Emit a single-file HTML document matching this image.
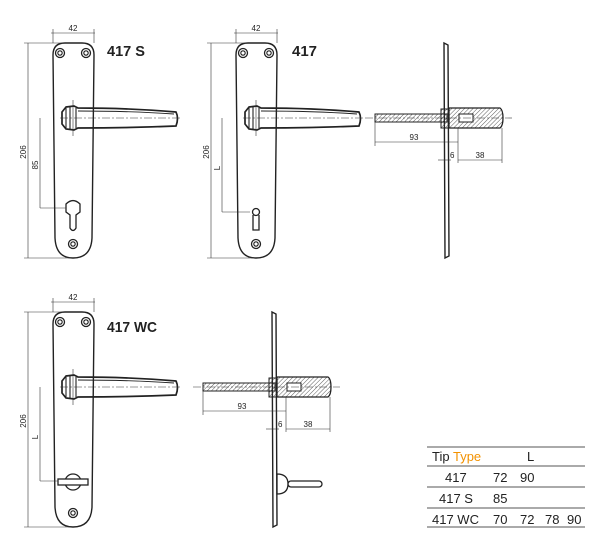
<!DOCTYPE html>
<html><head><meta charset="utf-8"><style>
html,body{margin:0;padding:0;background:#fff;width:600px;height:551px;overflow:hidden}
svg{display:block}
text{font-family:"Liberation Sans",sans-serif;fill:#222}
</style></head><body>
<svg width="600" height="551" viewBox="0 0 600 551" xmlns="http://www.w3.org/2000/svg">
<defs>
<pattern id="h" width="3" height="3" patternUnits="userSpaceOnUse" patternTransform="rotate(45)">
<line x1="0" y1="0" x2="0" y2="3" stroke="#333" stroke-width="0.8"/></pattern>
<g id="screw"><circle r="4.5" fill="none" stroke="#222" stroke-width="1.3"/><circle r="2.2" fill="none" stroke="#222" stroke-width="1.1"/></g>
<g id="plate">
<path d="M53,55 Q53,43 65,43 L82,43 Q94,43 94,55 L92,238 Q91,258 73,258 Q56,258 55,238 Z" fill="none" stroke="#222" stroke-width="1.4"/>
<use href="#screw" x="60" y="53"/><use href="#screw" x="86" y="53"/><use href="#screw" x="73" y="244"/>
<path d="M66,107 L74,106 L78,108 Q130,108 176,112 Q179,118 176,126 Q130,128 78,128 L74,130 L66,129 L62,124 L62,112 Z" fill="none" stroke="#222" stroke-width="1.7"/>
<path d="M66,108 L66,128 M70,107 L70,129 M76,108 L76,128" stroke="#222" stroke-width="1.1"/>
<path d="M78,111 Q130,111 174,114" fill="none" stroke="#222" stroke-width="0.9"/>
<line x1="60" y1="118" x2="182" y2="118" stroke="#333" stroke-width="0.6" stroke-dasharray="8,2,2,2"/>
<line x1="73" y1="100" x2="73" y2="136" stroke="#333" stroke-width="0.6"/>
<line x1="51" y1="33" x2="95" y2="33" stroke="#333" stroke-width="0.6"/>
<line x1="53" y1="29" x2="53" y2="43" stroke="#333" stroke-width="0.6"/><line x1="94" y1="29" x2="94" y2="43" stroke="#333" stroke-width="0.6"/>
<text x="73" y="31" font-size="8" text-anchor="middle">42</text>
<line x1="28" y1="43" x2="28" y2="258" stroke="#333" stroke-width="0.6"/>
<line x1="24" y1="43" x2="62" y2="43" stroke="#333" stroke-width="0.6"/><line x1="24" y1="258" x2="70" y2="258" stroke="#333" stroke-width="0.6"/>
<text x="26" y="152" font-size="8" text-anchor="middle" transform="rotate(-90 26 152)">206</text>
</g>
<g id="side">
<path d="M444,43 L448,45 L449,256 L445,258 Z" fill="none" stroke="#222" stroke-width="1.4"/>
<rect x="375" y="114" width="72" height="8" fill="url(#h)" stroke="#222" stroke-width="1"/>
<path d="M449,108 L500,108 Q503,110 503,118 Q503,126 500,128 L449,128 Z" fill="url(#h)" stroke="#222" stroke-width="1.3"/>
<rect x="441" y="109" width="8" height="19" fill="url(#h)" stroke="#222" stroke-width="1"/>
<rect x="459" y="114" width="14" height="8" fill="#fff" stroke="#222" stroke-width="1"/>
<line x1="365" y1="118" x2="512" y2="118" stroke="#333" stroke-width="0.6" stroke-dasharray="8,2,2,2"/>
<line x1="375" y1="122" x2="375" y2="146" stroke="#333" stroke-width="0.6"/>
<line x1="458" y1="128" x2="458" y2="163" stroke="#333" stroke-width="0.6"/>
<line x1="375" y1="142" x2="458" y2="142" stroke="#333" stroke-width="0.6"/>
<text x="414" y="140" font-size="8" text-anchor="middle">93</text>
<line x1="502" y1="128" x2="502" y2="163" stroke="#333" stroke-width="0.6"/>
<line x1="438" y1="160" x2="451" y2="160" stroke="#333" stroke-width="0.6"/>
<line x1="458" y1="160" x2="502" y2="160" stroke="#333" stroke-width="0.6"/>
<text x="450" y="158" font-size="8">6</text>
<text x="480" y="158" font-size="8" text-anchor="middle">38</text>
</g>
</defs>

<use href="#plate"/>
<path d="M66,204 Q73,197 80,204 L80,212 L76,215 L76,228 Q73,233 70,228 L70,215 L66,212 Z" fill="none" stroke="#222" stroke-width="1.3"/>
<line x1="40" y1="118" x2="40" y2="208" stroke="#333" stroke-width="0.6"/>
<line x1="40" y1="208" x2="66" y2="208" stroke="#333" stroke-width="0.6"/>
<text x="38" y="165" font-size="8" text-anchor="middle" transform="rotate(-90 38 165)">85</text>
<text x="107" y="56" font-size="15" font-weight="bold" textLength="38" lengthAdjust="spacingAndGlyphs">417 S</text>

<use href="#plate" x="183"/>
<circle cx="256" cy="212" r="3.5" fill="none" stroke="#222" stroke-width="1.3"/>
<path d="M253,215 L253,230 L259,230 L259,215" fill="none" stroke="#222" stroke-width="1.3"/>
<line x1="222" y1="118" x2="222" y2="212" stroke="#333" stroke-width="0.6"/>
<line x1="222" y1="212" x2="250" y2="212" stroke="#333" stroke-width="0.6"/>
<text x="220" y="168" font-size="8" text-anchor="middle" transform="rotate(-90 220 168)">L</text>
<text x="292" y="56" font-size="15" font-weight="bold" textLength="25" lengthAdjust="spacingAndGlyphs">417</text>

<use href="#side"/>

<use href="#plate" y="269"/>
<circle cx="73" cy="482" r="8" fill="none" stroke="#222" stroke-width="1.3"/>
<rect x="58" y="479" width="30" height="6" fill="#fff" stroke="#222" stroke-width="1.3"/>
<line x1="40" y1="387" x2="40" y2="481" stroke="#333" stroke-width="0.6"/>
<line x1="40" y1="481" x2="58" y2="481" stroke="#333" stroke-width="0.6"/>
<text x="38" y="437" font-size="8" text-anchor="middle" transform="rotate(-90 38 437)">L</text>
<text x="107" y="332" font-size="15" font-weight="bold" textLength="50" lengthAdjust="spacingAndGlyphs">417 WC</text>

<use href="#side" x="-172" y="269"/>
<path d="M277,474 Q288,474 288,484 Q288,494 277,494 Z" fill="none" stroke="#222" stroke-width="1.3"/>
<rect x="288" y="481" width="34" height="6" rx="3" fill="#fff" stroke="#222" stroke-width="1.3"/>

<g stroke="#555" stroke-width="1">
<line x1="427" y1="447" x2="585" y2="447"/><line x1="427" y1="466" x2="585" y2="466"/>
<line x1="427" y1="487" x2="585" y2="487"/><line x1="427" y1="508" x2="585" y2="508"/>
<line x1="427" y1="527" x2="585" y2="527"/>
</g>
<g font-size="13">
<text x="432" y="461">Tip <tspan fill="#f39200">Type</tspan></text>
<text x="527" y="461">L</text>
<text x="445" y="482">417</text><text x="493" y="482">72</text><text x="520" y="482">90</text>
<text x="439" y="503">417 S</text><text x="493" y="503">85</text>
<text x="432" y="524">417 WC</text><text x="493" y="524">70</text><text x="520" y="524">72</text><text x="545" y="524">78</text><text x="567" y="524">90</text>
</g>
</svg>
</body></html>
